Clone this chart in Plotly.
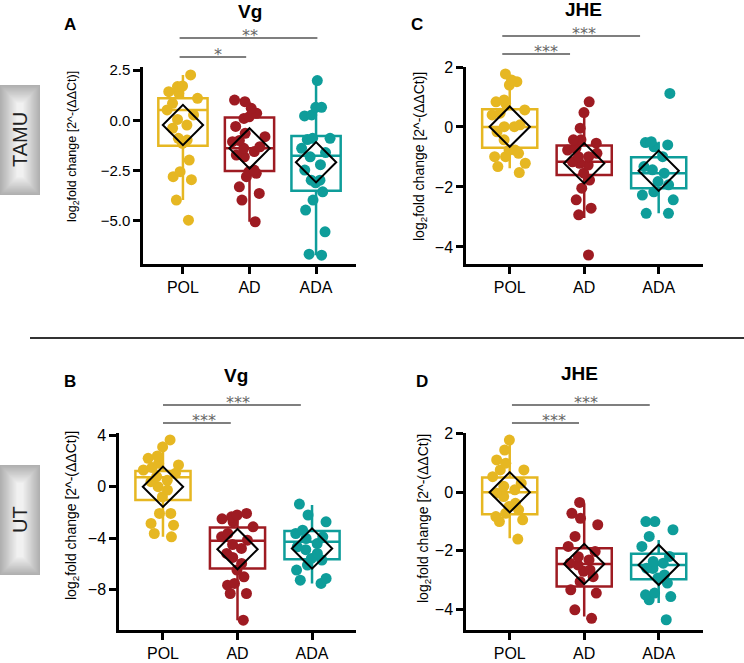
import plotly.graph_objects as go

W, H = 744, 663

groups = ["POL", "AD", "ADA"]
colors = ["#E6B722", "#9E1B22", "#0E9D9A"]

# ---- TAMU, Vg (panel A)
vg_tamu_pol = [2.26, 1.71, 1.68, 1.43, 1.35, 1.10, 0.85, 0.52, 0.27, 0.05, -0.23, -0.39,
               -0.89, -0.98, -1.14, -1.97, -2.55, -2.80, -2.95, -3.96, -4.96]
vg_tamu_ad = [0.93, 1.01, 0.60, 0.35, 0.18, 0.10, -0.30, -0.64, -0.81, -1.00, -1.06, -1.31,
              -1.39, -1.55, -1.72, -1.81, -2.47, -2.55, -2.63, -2.80, -3.30, -3.63, -3.96, -5.04]
vg_tamu_ada = [1.98, 0.27, 0.65, 0.65, 0.22, -0.89, -0.89, -0.95, -1.39, -1.60, -1.81, -2.20,
               -2.47, -2.97, -3.10, -2.97, -3.55, -3.96, -4.46, -5.54, -6.65, -6.70]
vg_tamu_q1 = [-1.26, -2.52, -3.50]
vg_tamu_med = [0.52, -1.39, -1.76]
vg_tamu_q3 = [1.10, 0.15, -0.78]
vg_tamu_lo = [-3.96, -5.04, -6.70]
vg_tamu_hi = [2.26, 0.93, 1.96]
vg_tamu_mean = [-0.23, -1.39, -2.08]

# ---- TAMU, JHE (panel C)
jhe_tamu_pol = [1.77, 1.51, 1.57, 1.40, 0.90, 0.84, 0.79, 0.57, 0.46, 0.40, 0.07, 0.01,
                0.01, -0.16, -0.43, -0.77, -0.77, -0.99, -0.99, -0.88, -1.21, -1.32, -1.52]
jhe_tamu_ad = [0.84, 0.48, -0.04, -0.54, -0.43, -0.43, -0.71, -0.77, -0.99, -0.99, -0.88,
               -1.21, -1.16, -1.27, -1.54, -2.04, -1.77, -2.43, -2.71, -2.93, -4.27]
jhe_tamu_ada = [1.12, -0.60, -0.49, -0.52, -0.66, -0.99, -1.32, -1.43, -1.54, -1.82, -1.93,
                -2.43, -2.27, -2.88, -2.88, -2.16]
jhe_tamu_q1 = [-0.69, -1.60, -2.04]
jhe_tamu_med = [0.0, -1.16, -1.54]
jhe_tamu_q3 = [0.59, -0.62, -1.01]
jhe_tamu_lo = [-1.38, -3.04, -2.88]
jhe_tamu_hi = [1.62, 0.46, -0.49]
jhe_tamu_mean = [0.01, -1.21, -1.46]

# ---- UT, Vg (panel B)
vg_ut_pol = [3.64, 3.10, 2.39, 2.21, 1.82, 1.69, 1.50, 1.30, 1.04, 0.78, 0.50, 0.39, 0.0,
             -0.26, -0.78, -2.08, -2.08, -2.86, -2.99, -3.64, -3.90]
vg_ut_ad = [-2.20, -2.08, -2.34, -2.50, -2.73, -3.12, -3.64, -3.90, -4.16, -4.50, -4.80,
            -5.19, -5.50, -5.97, -6.49, -7.01, -7.53, -7.66, -8.31, -8.31, -10.39]
vg_ut_ada = [-1.35, -2.20, -2.73, -3.38, -3.64, -3.90, -4.42, -4.03, -4.68, -4.90, -5.19,
             -5.58, -5.71, -6.10, -6.49, -7.14, -7.27, -7.53]
vg_ut_q1 = [-1.04, -6.36, -5.64]
vg_ut_med = [0.73, -4.20, -4.29]
vg_ut_q3 = [1.23, -3.17, -3.45]
vg_ut_lo = [-3.90, -10.40, -7.53]
vg_ut_hi = [3.50, -2.00, -1.43]
vg_ut_mean = [0.0, -4.86, -4.81]

# ---- UT, JHE (panel D)
jhe_ut_pol = [1.78, 1.44, 1.10, 0.99, 0.76, 0.76, 0.53, 0.31, 0.20, 0.08, -0.03, -0.15,
              -0.38, -0.49, -0.60, -0.72, -0.83, -0.94, -1.00, -1.60]
jhe_ut_ad = [-0.35, -0.72, -0.89, -1.11, -1.51, -1.85, -2.02, -2.20, -2.31, -2.42, -2.48,
             -2.65, -2.70, -2.88, -3.05, -3.33, -3.44, -4.01, -4.30]
jhe_ut_ada = [-1.00, -1.00, -1.28, -1.51, -1.85, -2.19, -2.36, -2.42, -2.59, -2.60, -2.82,
              -2.93, -3.10, -3.44, -3.50, -3.67, -3.56, -4.35]
jhe_ut_q1 = [-0.75, -3.22, -2.97]
jhe_ut_med = [0.0, -2.45, -2.48]
jhe_ut_q3 = [0.50, -1.91, -2.10]
jhe_ut_lo = [-1.57, -4.24, -3.78]
jhe_ut_hi = [1.73, -0.38, -1.63]
jhe_ut_mean = [0.0, -2.45, -2.48]

FONT = "Liberation Sans, Arial, sans-serif"


def px_x(v):
    return v / W


def px_y(v):
    return 1 - v / H


panels = [
    dict(name="A", title="Vg", pts=[vg_tamu_pol, vg_tamu_ad, vg_tamu_ada],
         q1=vg_tamu_q1, med=vg_tamu_med, q3=vg_tamu_q3, lo=vg_tamu_lo, hi=vg_tamu_hi,
         mean=vg_tamu_mean,
         box=(143, 356, 66.7, 264), xr=[-0.6, 2.6], yr=[-7.14, 2.67],
         tv=[-5, -2.5, 0, 2.5], tf=".1f", tfs=15,
         letter=(70, 25), head=(250, 11), ytitle=(73, 147, 12.5),
         lines=[(-0.05, 0.95, 57, 0.52, "*"), (-0.05, 2.02, 38, 1.0, "**")]),
    dict(name="C", title="JHE", pts=[jhe_tamu_pol, jhe_tamu_ad, jhe_tamu_ada],
         q1=jhe_tamu_q1, med=jhe_tamu_med, q3=jhe_tamu_q3, lo=jhe_tamu_lo, hi=jhe_tamu_hi,
         mean=jhe_tamu_mean,
         box=(466, 703, 67, 264), xr=[-0.587, 2.595], yr=[-4.57, 2.0],
         tv=[-4, -2, 0, 2], tf="d", tfs=16,
         letter=(417, 25), head=(583, 10), ytitle=(420, 157, 14),
         lines=[(-0.1, 0.81, 54, 0.49, "***"), (-0.1, 1.75, 36, 1.0, "***")]),
    dict(name="B", title="Vg", pts=[vg_ut_pol, vg_ut_ad, vg_ut_ada],
         q1=vg_ut_q1, med=vg_ut_med, q3=vg_ut_q3, lo=vg_ut_lo, hi=vg_ut_hi,
         mean=vg_ut_mean,
         box=(119, 356, 433, 630), xr=[-0.59, 2.59], yr=[-11.15, 4.18],
         tv=[-8, -4, 0, 4], tf="d", tfs=16,
         letter=(70, 382), head=(236, 375), ytitle=(72, 516, 14),
         lines=[(0.0, 0.91, 423, 0.55, "***"), (0.0, 1.85, 405, 1.0, "***")]),
    dict(name="D", title="JHE", pts=[jhe_ut_pol, jhe_ut_ad, jhe_ut_ada],
         q1=jhe_ut_q1, med=jhe_ut_med, q3=jhe_ut_q3, lo=jhe_ut_lo, hi=jhe_ut_hi,
         mean=jhe_ut_mean,
         box=(466, 703, 433, 630), xr=[-0.587, 2.595], yr=[-4.70, 2.02],
         tv=[-4, -2, 0, 2], tf="d", tfs=16,
         letter=(422, 382), head=(579, 373), ytitle=(424, 519, 14),
         lines=[(0.03, 0.93, 423, 0.59, "***"), (0.03, 1.88, 405, 1.03, "***")]),
]

fig = go.Figure()
shapes = []
annotations = []

for k, p in enumerate(panels):
    sfx = "" if k == 0 else str(k + 1)
    xa, ya = "x" + sfx, "y" + sfx
    # boxes from the summary stats
    for i, g in enumerate(groups):
        fig.add_trace(go.Box(
            x=[i], q1=[p["q1"][i]], median=[p["med"][i]], q3=[p["q3"][i]],
            lowerfence=[p["lo"][i]], upperfence=[p["hi"][i]],
            boxpoints=False, width=0.74, whiskerwidth=0,
            fillcolor="white", line=dict(color=colors[i], width=2.5),
            xaxis=xa, yaxis=ya, showlegend=False, hoverinfo="skip"))
    # jittered raw points
    for i, g in enumerate(groups):
        vals = p["pts"][i]
        fig.add_trace(go.Box(
            x=[i] * len(vals), y=vals, boxpoints="all", jitter=0.9, pointpos=0,
            width=0.6, fillcolor="rgba(0,0,0,0)", line=dict(width=0),
            marker=dict(size=11, color=colors[i], opacity=1),
            xaxis=xa, yaxis=ya, showlegend=False, hoverinfo="skip"))
    # group means
    fig.add_trace(go.Scatter(
        x=[0, 1, 2], y=p["mean"], mode="markers",
        marker=dict(symbol="diamond-open", size=31, color="black", line=dict(width=2)),
        xaxis=xa, yaxis=ya, showlegend=False, hoverinfo="skip"))

    x0, x1, y0, y1 = p["box"]
    fig.update_layout(**{
        "xaxis" + sfx: dict(domain=[px_x(x0), px_x(x1)], range=p["xr"], anchor=ya,
                            automargin=False,
                            tickvals=[0, 1, 2], ticktext=groups, showgrid=False, zeroline=False,
                            showline=True, linecolor="black", linewidth=2.5,
                            ticks="outside", ticklen=7, tickwidth=2.5, tickcolor="black",
                            tickfont=dict(size=16, color="black", family=FONT)),
        "yaxis" + sfx: dict(domain=[px_y(y1), px_y(y0)], range=p["yr"], anchor=xa,
                            automargin=False,
                            tickvals=p["tv"], tickformat=p["tf"], showgrid=False, zeroline=False,
                            showline=True, linecolor="black", linewidth=2.5,
                            ticks="outside", ticklen=7, tickwidth=2.5, tickcolor="black",
                            tickfont=dict(size=p["tfs"], color="black", family=FONT)),
    })

    # significance brackets
    for (lx0, lx1, ly, tx, lab) in p["lines"]:
        shapes.append(dict(type="line", xref=xa, yref="paper", x0=lx0, x1=lx1,
                           y0=px_y(ly), y1=px_y(ly), line=dict(color="#555555", width=1.5)))
        annotations.append(dict(x=tx, y=px_y(ly + 9), xref=xa, yref="paper", text=lab,
                                showarrow=False, xanchor="center", yanchor="bottom",
                                font=dict(size=16, color="#666666", family="DejaVu Sans")))

    lx, ly = p["letter"]
    annotations.append(dict(x=px_x(lx), y=px_y(ly), xref="paper", yref="paper",
                            text="<b>%s</b>" % p["name"], showarrow=False,
                            xanchor="center", yanchor="middle",
                            font=dict(size=17, color="black", family=FONT)))
    hx, hy = p["head"]
    annotations.append(dict(x=px_x(hx), y=px_y(hy), xref="paper", yref="paper",
                            text="<b>%s</b>" % p["title"], showarrow=False,
                            xanchor="center", yanchor="middle",
                            font=dict(size=19, color="black", family=FONT)))
    tx, ty, tsz = p["ytitle"]
    annotations.append(dict(x=px_x(tx), y=px_y(ty), xref="paper", yref="paper",
                            text="log<sub>2</sub>fold change [2^-(\u0394\u0394Ct)]",
                            textangle=-90, showarrow=False,
                            xanchor="center", yanchor="middle",
                            font=dict(size=tsz, color="black", family=FONT)))

# site labels on the left with a soft gray gradient
for site, (bx0, bx1, by0, by1) in [("TAMU", (0, 40, 85, 195)), ("UT", (0, 40, 465, 575))]:
    steps = 16
    for s in range(steps):
        t = s / steps
        g = int(176 + (246 - 176) * t)
        ix = (bx1 - bx0) / 2 * t * 0.9
        iy = (by1 - by0) / 2 * t * 0.35
        shapes.append(dict(type="rect", xref="paper", yref="paper",
                           x0=px_x(bx0 + ix), x1=px_x(bx1 - ix),
                           y0=px_y(by1 - iy), y1=px_y(by0 + iy),
                           fillcolor="rgb(%d,%d,%d)" % (g, g, g), line=dict(width=0), layer="below"))
    annotations.append(dict(x=px_x((bx0 + bx1) / 2), y=px_y((by0 + by1) / 2),
                            xref="paper", yref="paper", text=site, textangle=-90,
                            showarrow=False, xanchor="center", yanchor="middle",
                            font=dict(size=20, color="#222222", family=FONT)))

# divider between the two sites
shapes.append(dict(type="line", xref="paper", yref="paper", x0=px_x(30), x1=1,
                   y0=px_y(338), y1=px_y(338), line=dict(color="#333333", width=2)))

fig.update_layout(
    width=W, height=H, margin=dict(l=0, r=0, t=0, b=0, autoexpand=False),
    paper_bgcolor="white", plot_bgcolor="white",
    boxmode="overlay", shapes=shapes, annotations=annotations,
    font=dict(family=FONT, color="black"),
)

# the page body has a default 8px margin; drop it so the figure sits at the corner
fig.write_html("out.html", config={"displayModeBar": False},
               post_script="document.body.style.margin='0';")
